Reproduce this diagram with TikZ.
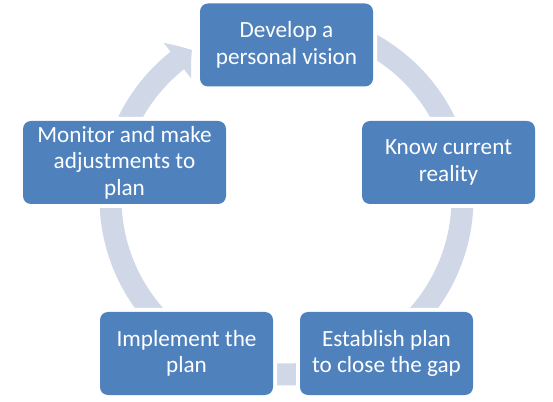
\documentclass[tikz,border=0pt]{standalone}
\usepackage{fontspec}
\setmainfont{Carlito}
\usepackage{xcolor}
\usepackage{tikz}
\usetikzlibrary{arrows.meta, bending}

\definecolor{boxblue}{RGB}{79,129,189}
\definecolor{ringblue}{RGB}{208,216,232}

\begin{document}
\begin{tikzpicture}[
    x=1pt, y=1pt,
    box/.style={rectangle, rounded corners=8pt, fill=boxblue, text=white, minimum width=173pt, minimum height=83pt, inner sep=0pt, align=center, font=\fontsize{23.2}{26.5}\selectfont, preaction={draw=white, line width=8pt}},
    ring/.style={draw=ringblue, line width=22pt},
    arrow/.style={ring, -{Triangle[length=18pt, width=44pt, bend]}}
]
    \useasboundingbox (0,0) rectangle (553,401);
    \coordinate (ctr) at (286.5,202.5);

    % Cycle arrows
    \draw[arrow] ([shift={(165:176)}]ctr) arc[start angle=165, end angle=122.5, radius=176];
    \draw[arrow] ([shift={(100:176)}]ctr) arc[start angle=100, end angle=14, radius=176];
    \draw[arrow] ([shift={(5:176)}]ctr) arc[start angle=5, end angle=-62, radius=176];
    \draw[arrow] ([shift={(-75:176)}]ctr) arc[start angle=-75, end angle=-110, radius=176];
    \draw[arrow] ([shift={(-125:176)}]ctr) arc[start angle=-125, end angle=-188, radius=176];

    % Steps
    \node[box] (vision) at (286.5,356) {Develop a\\personal vision};
    \node[box] (reality) at (448.5,238.5) {Know current\\reality};
    \node[box] (establish) at (386.5,47.5) {Establish plan\\to close the gap};
    \node[box] (implement) at (186.5,47.5) {Implement the\\plan};
    \node[box, minimum width=203pt] (monitor) at (124.5,238.5) {Monitor and make\\adjustments to\\plan};

\end{tikzpicture}
\end{document}
